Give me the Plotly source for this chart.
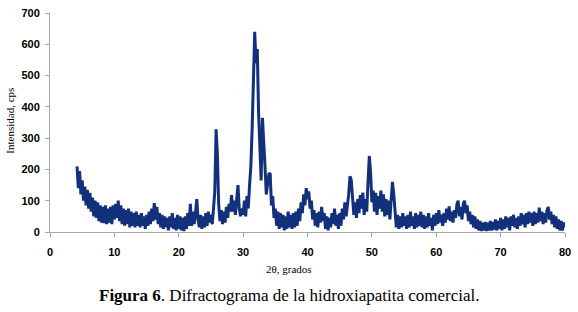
import plotly.graph_objects as go

# 2-theta grid: 4.2 .. 80.0 degrees, step 0.2
theta_start = 4.2
theta_step = 0.2

# Intensity (cps), by range of 2-theta
I_04_10 = [210, 140, 195, 120, 165, 100, 145, 85, 135, 75, 125, 65, 110, 50, 100,
           45, 95, 35, 85, 30, 80, 28, 85, 25, 75, 30, 80, 25, 85]
I_10_20 = [40, 90, 45, 100, 35, 85, 25, 75, 20, 70,
           25, 75, 15, 65, 20, 60, 15, 65, 20, 55,
           15, 60, 20, 50, 10, 55, 20, 65, 25, 75,
           35, 92, 40, 80, 25, 60, 15, 55, 10, 50,
           15, 45, 5, 50, 15, 60, 10, 45, 5, 55]
I_20_30 = [10, 50, 5, 45, 3, 50, 10, 60, 20, 90,
           20, 65, 25, 60, 105, 40, 15, 55, 10, 50,
           15, 60, 20, 65, 30, 55, 25, 75, 130, 328,
           250, 90, 35, 70, 25, 65, 30, 80, 45, 90,
           65, 118, 65, 100, 55, 105, 150, 75, 50, 75]
I_30_40 = [55, 100, 50, 115, 75, 150, 210, 330, 480, 640,
           540, 585, 380, 240, 165, 365, 300, 210, 120, 150,
           185, 188, 85, 115, 45, 75, 20, 65, 10, 60,
           15, 55, 5, 50, 10, 65, 15, 55, 10, 60,
           15, 65, 20, 75, 35, 95, 60, 120, 85, 140]
I_40_50 = [105, 130, 75, 100, 40, 70, 20, 60, 15, 65,
           30, 80, 35, 60, 10, 50, 5, 45, 15, 60,
           25, 75, 20, 55, 10, 60, 20, 75, 40, 95,
           50, 85, 120, 178, 165, 110, 55, 95, 45, 105,
           60, 118, 75, 126, 55, 105, 65, 160, 243, 190]
I_50_60 = [95, 132, 65, 125, 55, 115, 75, 132, 65, 120,
           50, 105, 55, 100, 40, 105, 160, 120, 50, 15,
           55, 10, 50, 15, 60, 20, 50, 10, 55, 15,
           65, 20, 50, 10, 60, 15, 55, 20, 65, 15,
           55, 10, 50, 15, 60, 20, 45, 5, 55, 20]
I_60_70 = [60, 25, 70, 30, 55, 20, 60, 30, 75, 40,
           82, 35, 65, 30, 70, 45, 88, 100, 50, 80,
           40, 90, 100, 60, 85, 35, 65, 25, 55, 15,
           50, 10, 40, 5, 35, 3, 30, 5, 32, 3,
           30, 5, 35, 5, 32, 8, 40, 5, 35, 10]
I_70_80 = [45, 5, 40, 10, 50, 15, 45, 5, 50, 20,
           55, 15, 45, 10, 50, 20, 60, 25, 55, 15,
           60, 25, 65, 30, 60, 20, 65, 25, 60, 30,
           78, 35, 65, 25, 60, 30, 70, 80, 40, 65,
           25, 55, 15, 50, 10, 40, 5, 35, 5, 30,
           15]

intensity = I_04_10 + I_10_20 + I_20_30 + I_30_40 + I_40_50 + I_50_60 + I_60_70 + I_70_80
two_theta = [round(theta_start + i * theta_step, 1) for i in range(len(intensity))]

x_ticks = [0, 10, 20, 30, 40, 50, 60, 70, 80]
y_ticks = [0, 100, 200, 300, 400, 500, 600, 700]

fig = go.Figure()
fig.add_trace(go.Scatter(
    x=two_theta, y=intensity, mode="lines",
    line=dict(color="#13307d", width=3),
    showlegend=False, hoverinfo="x+y",
))

tickfont = dict(family="Liberation Sans, Arial, sans-serif", size=11, color="#000000", weight="bold")
serif = "Liberation Serif, Times New Roman, serif"

fig.update_layout(
    width=578, height=312,
    margin=dict(l=50, r=11, t=7, b=80),
    paper_bgcolor="white", plot_bgcolor="white",
    xaxis=dict(
        range=[0, 80], tickvals=x_ticks, ticktext=[str(v) for v in x_ticks],
        showgrid=False, zeroline=False, showline=True, linecolor="#a6a6a6", linewidth=1,
        ticks="outside", ticklen=4, tickcolor="#a6a6a6", tickfont=tickfont,
        ticklabelstandoff=6,
    ),
    yaxis=dict(
        range=[0, 700], tickvals=y_ticks, ticktext=[str(v) for v in y_ticks],
        showgrid=False, zeroline=False, showline=True, linecolor="#a6a6a6", linewidth=1,
        ticks="outside", ticklen=4, tickcolor="#a6a6a6", tickfont=tickfont,
        ticklabelstandoff=3,
    ),
    annotations=[
        dict(text="Intensidad, cps", xref="paper", yref="paper", x=-0.077, y=0.51,
             textangle=-90, showarrow=False, xanchor="center", yanchor="middle",
             font=dict(family=serif, size=11, color="#000")),
        dict(text="2θ, grados", xref="paper", yref="paper", x=0.464, y=-0.169,
             showarrow=False, xanchor="center", yanchor="middle",
             font=dict(family=serif, size=11, color="#000")),
        dict(text="<b>Figura 6</b>. Difractograma de la hidroxiapatita comercial.",
             xref="paper", yref="paper", x=0.464, y=-0.289,
             showarrow=False, xanchor="center", yanchor="middle",
             font=dict(family=serif, size=17, color="#000")),
    ],
)

fig.write_html("out.html", config={"displayModeBar": False},
               post_script="document.body.style.margin='0';document.body.style.padding='0';")
